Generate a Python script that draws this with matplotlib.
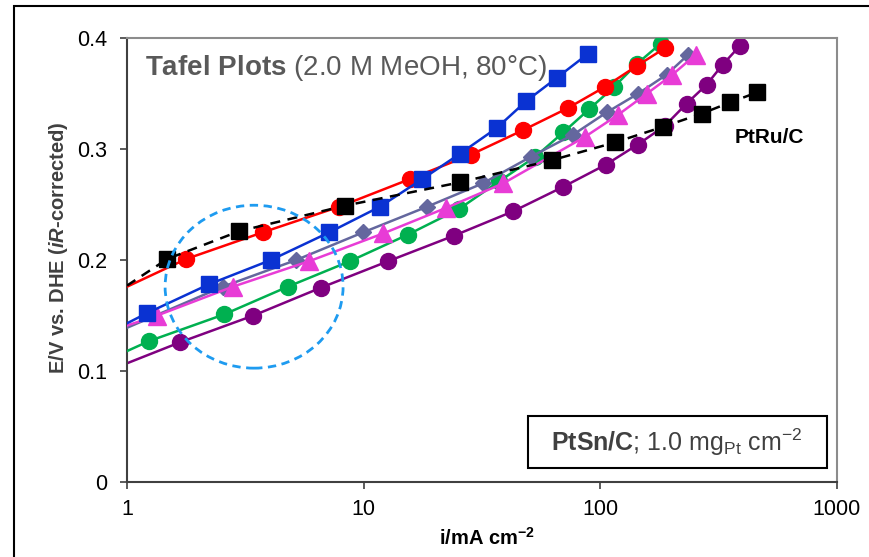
import numpy as np
import matplotlib
matplotlib.use("Agg")
import matplotlib.pyplot as plt
from matplotlib.patches import Ellipse, Rectangle

plt.rcParams['font.family'] = ['Liberation Sans', 'DejaVu Sans']
plt.rcParams['mathtext.fontset'] = 'custom'
plt.rcParams['mathtext.rm'] = 'Liberation Sans'
plt.rcParams['mathtext.bf'] = 'Liberation Sans:bold'
plt.rcParams['mathtext.it'] = 'Liberation Sans:italic:bold'

# current density (mA cm-2) and potential (V) for each run
# *_e0 = value of the Tafel line where it meets i = 1 mA cm-2
purple_i = [1.68, 3.42, 6.58, 12.7, 24.1, 42.9, 69.7, 105.6, 143.8, 187.5, 231.6, 281.3, 328.6, 388.9]
purple_e = [0.126, 0.150, 0.175, 0.199, 0.222, 0.244, 0.266, 0.286, 0.304, 0.321, 0.341, 0.358, 0.376, 0.393]
purple_e0 = 0.107

green_i = [1.24, 2.57, 4.78, 8.75, 15.4, 25.3, 37.4, 53.1, 69.7, 89.8, 114.2, 143.2, 179.8]
green_e = [0.127, 0.151, 0.176, 0.199, 0.223, 0.246, 0.271, 0.293, 0.315, 0.336, 0.356, 0.377, 0.395]
green_e0 = 0.118

gray_i = [2.54, 5.18, 9.96, 18.5, 31.8, 50.8, 76.8, 106.3, 144.6, 190.5, 235.0]
gray_e = [0.176, 0.200, 0.225, 0.248, 0.269, 0.293, 0.313, 0.333, 0.350, 0.367, 0.385]
gray_e0 = 0.139

pink_i = [1.34, 2.80, 5.89, 12.1, 22.3, 38.8, 86.1, 119.1, 157.4, 201.6, 252.9]
pink_e = [0.150, 0.176, 0.199, 0.224, 0.247, 0.269, 0.311, 0.331, 0.350, 0.367, 0.385]
pink_e0 = 0.141

red_i = [1.78, 3.75, 7.87, 15.7, 28.4, 47.1, 73.0, 104.5, 142.8, 187.5]
red_e = [0.201, 0.225, 0.248, 0.273, 0.295, 0.317, 0.337, 0.356, 0.375, 0.391]
red_e0 = 0.176

blue_i = [1.21, 2.21, 4.05, 7.16, 11.7, 17.7, 25.6, 36.5, 48.5, 65.3, 88.9]
blue_e = [0.152, 0.178, 0.200, 0.225, 0.248, 0.273, 0.296, 0.319, 0.343, 0.364, 0.386]
blue_e0 = 0.143

ptru_i = [1.48, 2.98, 8.34, 25.5, 62.5, 115.3, 183.8, 268.7, 353.0, 459.0]
ptru_e = [0.201, 0.226, 0.249, 0.270, 0.290, 0.306, 0.320, 0.332, 0.342, 0.351]
ptru_e0 = 0.177

fig = plt.figure(figsize=(8.7, 5.57), dpi=100)
ax = fig.add_axes([0.146, 0.1346, 0.816, 0.797])

series = [
    (purple_i, purple_e, purple_e0, '#7f0080', 'o', 11.5),
    (green_i, green_e, green_e0, '#00b050', 'o', 11.5),
    (gray_i, gray_e, gray_e0, '#64679e', 'D', 8.5),
    (pink_i, pink_e, pink_e0, '#e83cd6', '^', 12.5),
    (red_i, red_e, red_e0, '#ff0000', 'o', 11.5),
    (blue_i, blue_e, blue_e0, '#0a32d2', 's', 11),
]
for k, (xi, ye, e0, col, mk, ms) in enumerate(series):
    ax.plot([1] + xi, [e0] + ye, color=col, lw=1.8, zorder=2 + k)
    ax.plot(xi, ye, ls='none', marker=mk, ms=ms, color=col, mec=col, zorder=2 + k)

ax.plot([1] + ptru_i, [ptru_e0] + ptru_e, color='black', lw=1.8, dashes=(4, 3), zorder=10)
ax.plot(ptru_i, ptru_e, ls='none', marker='s', ms=11, color='black', zorder=10)

ax.set_xscale('log')
ax.set_xlim(1, 1000)
ax.set_ylim(0, 0.4)
ax.set_xticks([1, 10, 100, 1000])
ax.set_xticklabels(['1', '10', '100', '1000'])
ax.set_yticks([0, 0.1, 0.2, 0.3, 0.4])
ax.set_yticklabels(['0', '0.1', '0.2', '0.3', '0.4'])
ax.xaxis.set_minor_locator(matplotlib.ticker.NullLocator())
ax.tick_params(axis='both', which='major', labelsize=15.5, length=5, width=1.2,
               direction='out', color='#404040')
ax.tick_params(axis='y', pad=9)
ax.tick_params(axis='x', pad=7)

for s in ['left', 'bottom']:
    ax.spines[s].set_color('#404040')
    ax.spines[s].set_linewidth(1.5)
for s in ['top', 'right']:
    ax.spines[s].set_color('#8c8c8c')
    ax.spines[s].set_linewidth(1.5)

ax.set_ylabel(r'E/V vs. DHE ($\mathit{iR}$-corrected)', fontsize=14.5,
              fontweight='bold', color='#404040')
ax.yaxis.set_label_coords(-0.080, 0.527)
ax.set_xlabel(r'i/mA cm$^{\mathbf{-2}}$', fontsize=14.5, fontweight='bold')
ax.xaxis.set_label_coords(0.507, -0.100)

ax.text(0.025, 0.917, r'$\mathbf{Tafel\ Plots}$ (2.0 M MeOH, 80°C)', transform=ax.transAxes,
        fontsize=20, color='#595959', va='baseline', ha='left')
ax.text(0.856, 0.775, 'PtRu/C', transform=ax.transAxes, fontsize=15,
        fontweight='bold', va='center', ha='left')

# sample label box
ax.add_patch(Rectangle((0.5648, 0.0309), 0.4207, 0.1178, transform=ax.transAxes,
                       fill=True, fc='white', ec='black', lw=1.5, zorder=20))
ax.text(0.7746, 0.090, r'$\mathbf{PtSn/C}$; 1.0 mg$_{\mathrm{Pt}}$ cm$^{-2}$',
        transform=ax.transAxes, fontsize=18, color='#404040', ha='center', va='center',
        zorder=21)

# dashed circle around the low-current region
ax.add_patch(Ellipse((0.179, 0.440), 0.2507, 0.367, transform=ax.transAxes, fill=False,
                     ec='#1e9bf0', lw=2, ls=(0, (3, 2)), zorder=15))

# outer frame
fig.patches.append(Rectangle((14 / 870, -0.2), 1.2, 1.2 - 6 / 557, transform=fig.transFigure,
                             fill=False, ec='black', lw=1.5))

fig.savefig('out.png', dpi=100)
